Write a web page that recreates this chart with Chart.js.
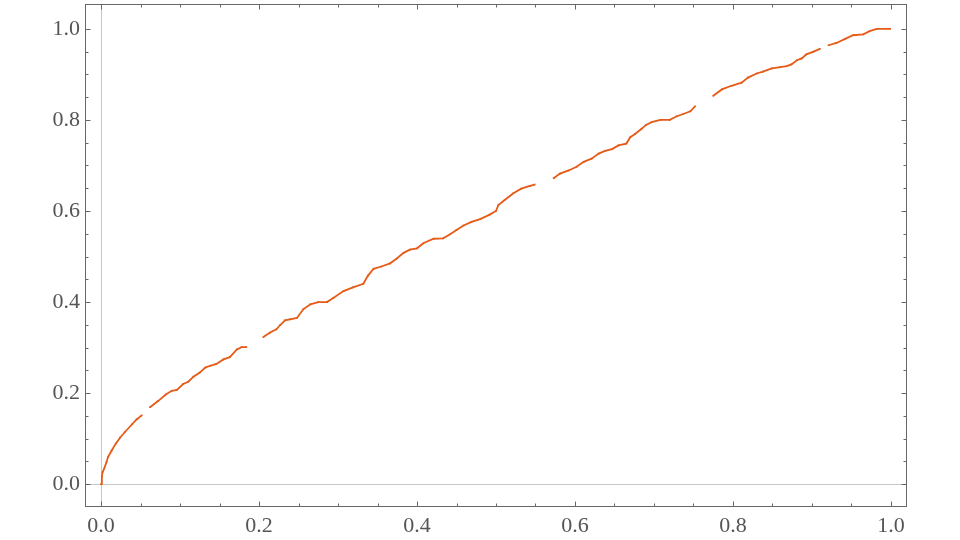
<!DOCTYPE html>
<html>
<head>
<meta charset="utf-8">
<script src="https://cdn.jsdelivr.net/npm/chart.js@4.4.1/dist/chart.umd.min.js"></script>
<style>
  html, body { margin: 0; padding: 0; background: #fff; }
  #wrap { width: 960px; height: 540px; position: relative; }
</style>
</head>
<body>
<div id="wrap"><canvas id="plot" width="960" height="540"></canvas></div>
<script>
// data; null marks a visible break in the dots
const xs = [
  0, 0.001, 0.002, 0.004, 0.007, 0.009, 0.0135, 0.0186, 0.024, 0.030, 0.039, 0.045, 0.0515, null,
  0.062, 0.0725, 0.082, 0.0895, 0.096, 0.104, 0.1105, 0.117, 0.125, 0.132, 0.138, 0.146, 0.155, 0.163, 0.172, 0.178, 0.184, null,
  0.2055, 0.214, 0.222, 0.2265, 0.233, 0.239, 0.248, 0.256, 0.265, 0.275, 0.286, 0.294, 0.307, 0.319, 0.332, 0.338, 0.345, 0.355,
  0.366, 0.374, 0.383, 0.391, 0.400, 0.408, 0.421, 0.433, 0.442, 0.450, 0.459, 0.469, 0.480, 0.492, 0.500, 0.503, 0.511, 0.522,
  0.532, 0.543, 0.549, null,
  0.573, 0.581, 0.592, 0.602, 0.611, 0.621, 0.630, 0.638, 0.647, 0.655, 0.665, 0.670, 0.676, 0.684, 0.690, 0.697, 0.708, 0.720,
  0.729, 0.737, 0.746, 0.752, null,
  0.775, 0.786, 0.798, 0.811, 0.819, 0.830, 0.838, 0.849, 0.860, 0.868, 0.874, 0.881, 0.887, 0.893, 0.902, 0.910, null,
  0.921, 0.931, 0.942, 0.952, 0.965, 0.973, 0.982, 0.999
];
const ys = [
  0, 0.016, 0.027, 0.034, 0.049, 0.060, 0.074, 0.089, 0.102, 0.114, 0.131, 0.142, 0.151, null,
  0.169, 0.183, 0.197, 0.205, 0.207, 0.220, 0.225, 0.236, 0.245, 0.256, 0.260, 0.264, 0.274, 0.279, 0.296, 0.301, 0.301, null,
  0.323, 0.333, 0.340, 0.349, 0.360, 0.362, 0.365, 0.384, 0.395, 0.400, 0.400, 0.409, 0.424, 0.432, 0.440, 0.458, 0.473, 0.478,
  0.485, 0.495, 0.508, 0.515, 0.518, 0.529, 0.539, 0.540, 0.549, 0.558, 0.568, 0.576, 0.582, 0.592, 0.600, 0.613, 0.624, 0.639,
  0.649, 0.655, 0.658, null,
  0.672, 0.682, 0.689, 0.697, 0.708, 0.715, 0.726, 0.732, 0.736, 0.744, 0.748, 0.762, 0.769, 0.780, 0.789, 0.795, 0.800, 0.800,
  0.808, 0.813, 0.819, 0.830, null,
  0.853, 0.867, 0.875, 0.882, 0.893, 0.902, 0.906, 0.913, 0.916, 0.918, 0.922, 0.931, 0.935, 0.944, 0.950, 0.956, null,
  0.964, 0.969, 0.978, 0.986, 0.988, 0.995, 1.0, 1.0
];

const xTicks = [0, 0.2, 0.4, 0.6, 0.8, 1.0];
const xTickLabels = ['0.0', '0.2', '0.4', '0.6', '0.8', '1.0'];
const yTicks = [0, 0.2, 0.4, 0.6, 0.8, 1.0];
const yTickLabels = ['0.0', '0.2', '0.4', '0.6', '0.8', '1.0'];
const minorTicks = [0.05, 0.1, 0.15, 0.25, 0.3, 0.35, 0.45, 0.5, 0.55, 0.65, 0.7, 0.75, 0.85, 0.9, 0.95];

const X_MIN = -0.0203, X_MAX = 1.0203;
const Y_MIN = -0.0502, Y_MAX = 1.0546;

const DOT = '#e55b17';
const FRAME = '#686868';
const ZERO = '#c6c6c6';

// split into runs at the nulls
const runs = [];
let cur = [];
xs.forEach((x, i) => {
  if (x === null) { if (cur.length) runs.push(cur); cur = []; }
  else cur.push({ x: x, y: ys[i] });
});
if (cur.length) runs.push(cur);

const frameTicks = {
  id: 'frameTicks',
  beforeDatasetsDraw(chart) {
    const { ctx, chartArea: a, scales: { x, y } } = chart;
    ctx.save();
    ctx.strokeStyle = ZERO;
    ctx.lineWidth = 1;
    const x0 = Math.round(x.getPixelForValue(0)) + 0.5;
    const y0 = Math.round(y.getPixelForValue(0)) + 0.5;
    ctx.beginPath();
    ctx.moveTo(x0, a.top); ctx.lineTo(x0, a.bottom);
    ctx.moveTo(a.left, y0); ctx.lineTo(a.right, y0);
    ctx.stroke();
    ctx.restore();
  },
  afterDraw(chart) {
    const { ctx, chartArea: a, scales: { x, y } } = chart;
    const L = a.left + 0.5, R = a.right - 0.5, T = a.top + 0.5, B = a.bottom - 0.5;
    ctx.save();
    ctx.strokeStyle = FRAME;
    ctx.lineWidth = 1;
    ctx.strokeRect(L, T, R - L, B - T);
    ctx.beginPath();
    const tickX = (v, len) => {
      const p = Math.round(x.getPixelForValue(v)) + 0.5;
      ctx.moveTo(p, B); ctx.lineTo(p, B - len);
      ctx.moveTo(p, T); ctx.lineTo(p, T + len);
    };
    const tickY = (v, len) => {
      const p = Math.round(y.getPixelForValue(v)) + 0.5;
      ctx.moveTo(L, p); ctx.lineTo(L + len, p);
      ctx.moveTo(R, p); ctx.lineTo(R - len, p);
    };
    xTicks.forEach(v => tickX(v, 5));
    minorTicks.forEach(v => tickX(v, 3));
    yTicks.forEach(v => tickY(v, 5));
    minorTicks.forEach(v => tickY(v, 3));
    ctx.stroke();
    ctx.restore();
  }
};

const labelFont = { family: '"Liberation Serif", "Times New Roman", serif', size: 22 };

new Chart(document.getElementById('plot'), {
  type: 'scatter',
  data: {
    datasets: runs.map(r => ({
      data: r,
      showLine: true,
      borderColor: DOT,
      borderWidth: 1.8,
      backgroundColor: DOT,
      pointRadius: 1.2,
      pointBorderWidth: 0,
      pointStyle: 'rect'
    }))
  },
  options: {
    responsive: false,
    animation: false,
    layout: { padding: { left: 0, right: 53, top: 1, bottom: 0 } },
    plugins: { legend: { display: false }, tooltip: { enabled: false } },
    scales: {
      x: {
        type: 'linear', min: X_MIN, max: X_MAX,
        grid: { display: false, drawTicks: false },
        border: { display: false },
        afterFit(s) { s.height = 33; s.paddingLeft = 0; s.paddingRight = 0; },
        afterBuildTicks(s) { s.ticks = xTicks.map(v => ({ value: v })); },
        ticks: {
          padding: 6, color: '#555', font: labelFont, maxRotation: 0, autoSkip: false,
          callback: (v) => xTickLabels[xTicks.indexOf(v)]
        }
      },
      y: {
        type: 'linear', min: Y_MIN, max: Y_MAX,
        grid: { display: false, drawTicks: false },
        border: { display: false },
        afterFit(s) { s.width = 85; s.paddingTop = 0; s.paddingBottom = 0; },
        afterBuildTicks(s) { s.ticks = yTicks.map(v => ({ value: v })); },
        ticks: {
          padding: 5, color: '#555', font: labelFont, autoSkip: false,
          callback: (v) => yTickLabels[yTicks.indexOf(v)]
        }
      }
    }
  },
  plugins: [frameTicks]
});
</script>
</body>
</html>
